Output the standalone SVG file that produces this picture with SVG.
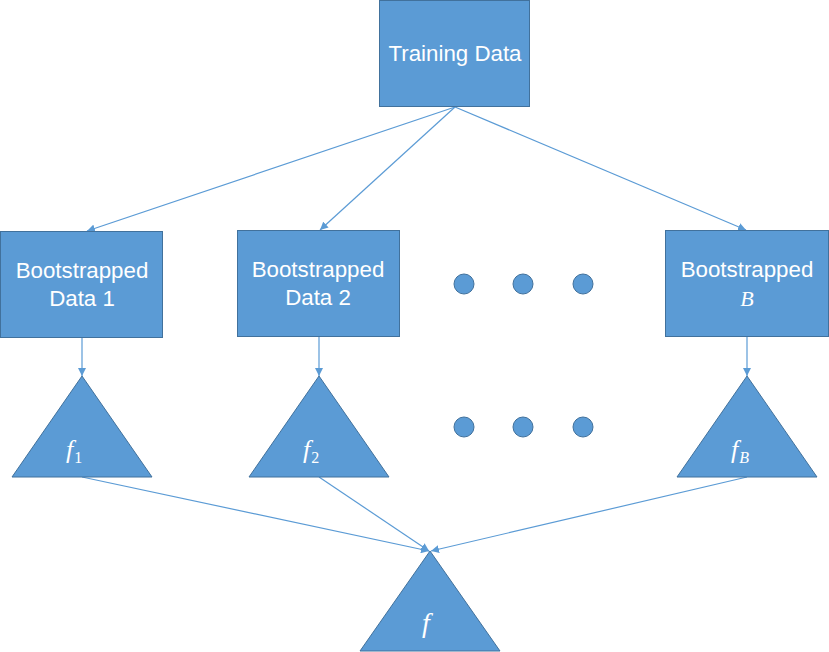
<svg xmlns="http://www.w3.org/2000/svg" width="829" height="652" viewBox="0 0 829 652">
<style>
.box{fill:#5B9BD5;stroke:#41719C;stroke-width:1}
.lbl{font-family:"Liberation Sans",Arial,sans-serif;font-size:22.3px;fill:#fff;text-anchor:middle}
.math{font-family:"Liberation Serif","Times New Roman",serif;font-style:italic;fill:#fff}
.sub{font-size:16px}
.dot{fill:#5B9BD5;stroke:#41719C;stroke-width:1}
.edge{stroke:#5B9BD5;stroke-width:1.2;fill:none;marker-end:url(#ah)}
</style>
<defs>
<marker id="ah" viewBox="0 0 10 10" refX="10" refY="5" markerWidth="8" markerHeight="8" markerUnits="userSpaceOnUse" orient="auto">
<path d="M0,0 L10,5 L0,10 z" fill="#5B9BD5"/>
</marker>
</defs>
<rect width="829" height="652" fill="#fff"/>
<g id="connectors">
<line class="edge" x1="455" y1="107" x2="87" y2="231"/>
<line class="edge" x1="455" y1="107" x2="320" y2="230"/>
<line class="edge" x1="455" y1="107" x2="746" y2="230"/>
<line class="edge" x1="82" y1="338" x2="82" y2="376"/>
<line class="edge" x1="319" y1="337" x2="319" y2="376"/>
<line class="edge" x1="747" y1="337" x2="747" y2="376"/>
<line class="edge" x1="82" y1="477" x2="429" y2="551"/>
<line class="edge" x1="319" y1="477" x2="429" y2="551"/>
<line class="edge" x1="747" y1="477" x2="431" y2="551"/>
</g>
<g id="training">
<rect class="box" x="379.5" y="0.5" width="150" height="106"/>
<text class="lbl" x="455" y="61">Training Data</text>
</g>
<g id="boot1">
<rect class="box" x="0.5" y="231.5" width="162" height="106"/>
<text class="lbl" x="82" y="278">Bootstrapped</text>
<text class="lbl" x="82" y="306">Data 1</text>
</g>
<g id="boot2">
<rect class="box" x="237.5" y="230.5" width="162" height="106"/>
<text class="lbl" x="318" y="277">Bootstrapped</text>
<text class="lbl" x="318" y="305">Data 2</text>
</g>
<g id="bootB">
<rect class="box" x="665.5" y="230.5" width="163" height="106"/>
<text class="lbl" x="747" y="277">Bootstrapped</text>
<text class="math" x="747" y="306" font-size="22" text-anchor="middle">B</text>
</g>
<g id="dots1">
<circle class="dot" cx="464" cy="284" r="10"/>
<circle class="dot" cx="523" cy="284" r="10"/>
<circle class="dot" cx="583" cy="284" r="10"/>
</g>
<g id="dots2">
<circle class="dot" cx="464" cy="427" r="10"/>
<circle class="dot" cx="523" cy="427" r="10"/>
<circle class="dot" cx="583" cy="427" r="10"/>
</g>
<g id="tree1">
<polygon class="box" points="82,376 152,477 12,477"/>
<text class="math" x="66" y="458" font-size="26">f<tspan class="sub" font-style="normal" dx="1" dy="5">1</tspan></text>
</g>
<g id="tree2">
<polygon class="box" points="319,376 389,477 249,477"/>
<text class="math" x="303" y="458" font-size="26">f<tspan class="sub" font-style="normal" dx="1" dy="5">2</tspan></text>
</g>
<g id="treeB">
<polygon class="box" points="747,376 817,477 677,477"/>
<text class="math" x="731" y="458" font-size="26">f<tspan class="sub" dx="1" dy="5">B</tspan></text>
</g>
<g id="treeF">
<polygon class="box" points="430,551 500,651 360,651"/>
<text class="math" x="422" y="632" font-size="28">f</text>
</g>
</svg>
